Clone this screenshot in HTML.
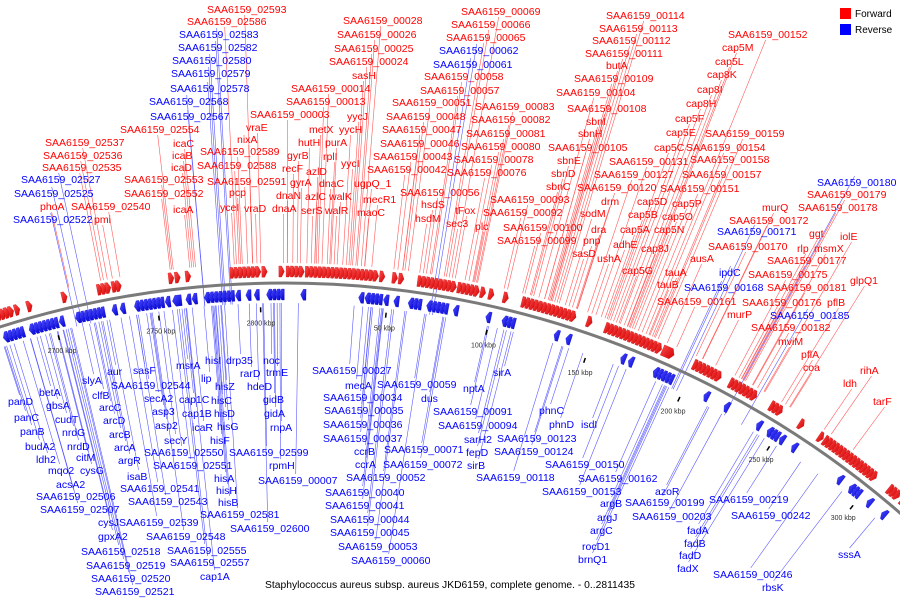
<!DOCTYPE html>
<html><head><meta charset="utf-8"><style>
html,body{margin:0;padding:0;background:#fff;width:900px;height:600px;overflow:hidden}
svg{display:block;overflow:hidden}
text{font-family:"Liberation Sans",sans-serif}
</style></head><body>
<svg id="map" width="900" height="600" viewBox="0 0 900 600" xmlns="http://www.w3.org/2000/svg">
<defs>
<linearGradient id="gr" x1="0" y1="0" x2="1" y2="1"><stop offset="0" stop-color="#ff5050"/><stop offset="1" stop-color="#d00000"/></linearGradient>
<linearGradient id="gb" x1="0" y1="0" x2="1" y2="1"><stop offset="0" stop-color="#5050ff"/><stop offset="1" stop-color="#0000d0"/></linearGradient>
<clipPath id="frame"><rect x="0" y="0" width="900" height="600"/></clipPath>
</defs>
<g clip-path="url(#frame)">
<g id="leaders"></g>
<g id="genes"></g>
<g id="ticks"></g>
<g id="labels"></g>
</g>
<g>
<rect x="840" y="8" width="11" height="11" fill="#f00"/>
<text x="855" y="17" font-size="10" fill="#000">Forward</text>
<rect x="840" y="24" width="11" height="11" fill="#00f"/>
<text x="855" y="33" font-size="10" fill="#000">Reverse</text>
</g>
<text x="450" y="588" text-anchor="middle" font-size="10" textLength="370" lengthAdjust="spacingAndGlyphs" fill="#000">Staphylococcus aureus subsp. aureus JKD6159, complete genome. - 0..2811435</text>
</svg>
<script>
const genomeLength = 2811.435; // kbp
const fwdGenes = [[2674,2.6],[2676,2.6],[2678,2.6],[2680,2.6],[2683,2.6],[2689,2.6],[2706,2.6],[2723,2.6],[2725,2.6],[2727,2.6],[2730,2.6],[2732,2.6],[2757,2.6],[2760,2.6],[2765,2.6],[2786,2.6],[2788,2.6],[2790,2.6],[2792,2.6],[2794,2.6],[2796,2.6],[2798,2.6],[2801,2.6],[2809,2.6],[1,2.6],[3,2.6],[5,2.6],[7,2.6],[10,2.6],[12,2.6],[14,2.6],[16,2.6],[18,2.6],[20,2.6],[22,2.6],[24,2.6],[26,2.6],[28,2.6],[30,2.6],[32,2.6],[34,2.6],[36,2.6],[38,2.6],[40,2.6],[42,2.6],[45,2.6],[51,2.6],[54,2.6],[63,2.6],[65,2.6],[67,2.6],[69,2.6],[71,2.6],[73,2.6],[75,2.6],[77,2.6],[79,2.6],[82,2.6],[84,2.6],[86,2.6],[88,2.6],[90,2.6],[93,2.6],[97,2.6],[104,2.6],[113,2.6],[115,2.6],[117,2.6],[119,2.6],[121,2.6],[123,2.6],[125,2.6],[127,2.6],[129,2.6],[131,2.6],[133,2.6],[135,2.6],[137,2.6],[145,2.6],[154,2.6],[156,2.6],[158,2.6],[160,2.6],[162,2.6],[164,2.6],[166,2.6],[168,2.6],[170,2.6],[172,2.6],[174,2.6],[176,2.6],[178,2.6],[180,2.6],[183,6],[199,2.6],[201,2.6],[203,2.6],[205,2.6],[207,2.6],[209,2.6],[211,2.6],[218,2.6],[220,2.6],[222,2.6],[224,2.6],[226,2.6],[228,2.6],[230,2.6],[240,2.6],[242,2.6],[244,2.6],[256,2.6],[267,2.6],[270,2.6],[272,2.6],[274,2.6],[276,2.6],[278,2.6],[280,2.6],[282,2.6],[284,2.6],[286,2.6],[288,2.6],[290,2.6],[292,2.6],[294,2.6],[296,2.6],[298,2.6],[308,2.6],[310,2.6],[312,2.6],[316,2.6]];
const revGenes = [[2674,2.6],[2676,2.6],[2678,2.6],[2680,2.6],[2682,2.6],[2687,2.6],[2689,2.6],[2691,2.6],[2693,2.6],[2695,2.6],[2697,2.6],[2699,2.6],[2702,2.6],[2710,2.6],[2712,2.6],[2714,2.6],[2716,2.6],[2718,2.6],[2720,2.6],[2722,2.6],[2728,2.6],[2732,2.6],[2739,2.6],[2741,2.6],[2743,2.6],[2745,2.6],[2747,2.6],[2749,2.6],[2751,2.6],[2754,2.6],[2757.5,4.5],[2764,2.6],[2767,2.6],[2773,2.6],[2775,2.6],[2777,2.6],[2779,2.6],[2781,2.6],[2783,2.6],[2785,2.6],[2788,2.6],[2793,2.6],[2797,2.6],[2803,2.6],[2805,2.6],[2807,2.6],[2809,2.6],[8,2.6],[36,2.6],[39,2.6],[41,2.6],[43,2.6],[45,2.6],[48,2.6],[53,2.6],[60,2.6],[62,2.6],[64,2.6],[69,2.6],[71,2.6],[73,2.6],[75,2.6],[77,2.6],[82,2.6],[98,2.6],[106,2.6],[108,2.6],[110,2.6],[132,2.6],[138,2.6],[166,2.6],[170,2.6],[183,2.6],[185,2.6],[187,2.6],[189,2.6],[191,2.6],[210,2.6],[221,2.6],[239,2.6],[245,2.6],[247,2.6],[249,2.6],[252,2.6],[259,2.6],[286,2.6],[293,2.6],[295,2.6],[297,2.6],[304,2.6],[313,2.6]];
const tickValues = [2700,2750,2800,50,100,150,200,250,300];
const tickLabels = ["2700 kbp","2750 kbp","2800 kbp","50 kbp","100 kbp","150 kbp","200 kbp","250 kbp","300 kbp"];
const labelData = [
["SAA6159_02593",207,9,"r"],["SAA6159_02586",187,21,"r"],["SAA6159_02583",179,34,"b"],["SAA6159_02582",178,47,"b"],["SAA6159_02580",172,60,"b"],["SAA6159_02579",171,73,"b"],["SAA6159_02578",170,88,"b"],["SAA6159_02568",149,101,"b"],["SAA6159_02567",150,116,"b"],["SAA6159_02554",120,129,"r"],["vraE",246,127,"r"],["SAA6159_02537",45,142,"r"],["nixA",237,139,"r"],["icaC",173,143,"r"],["SAA6159_02536",43,155,"r"],["icaB",172,155,"r"],["SAA6159_02589",200,151,"r"],["SAA6159_02535",42,167,"r"],["icaD",171,167,"r"],["SAA6159_02588",197,165,"r"],["SAA6159_02527",21,179,"b"],["SAA6159_02553",124,179,"r"],["SAA6159_02591",207,181,"r"],["SAA6159_02525",14,193,"b"],["SAA6159_02552",124,193,"r"],["pcp",229,192,"r"],["SAA6159_02540",71,206,"r"],["phoA",40,206,"r"],["icaA",173,209,"r"],["yceI",220,207,"r"],["vraD",244,208,"r"],["SAA6159_02522",13,219,"b"],["pmi",94,219,"r"],
["SAA6159_00003",250,114,"r"],["gyrB",287,155,"r"],["recF",282,168,"r"],["gyrA",290,182,"r"],["dnaN",276,195,"r"],["dnaA",272,208,"r"],
["SAA6159_00028",343,20,"r"],["SAA6159_00026",337,34,"r"],["SAA6159_00025",334,48,"r"],["SAA6159_00024",329,61,"r"],["sasH",352,75,"r"],["SAA6159_00014",291,88,"r"],["SAA6159_00013",286,101,"r"],["yycJ",347,116,"r"],["metX",309,129,"r"],["yycH",339,129,"r"],["hutH",298,142,"r"],["purA",325,142,"r"],["rplI",323,156,"r"],["yycI",341,163,"r"],["azlD",306,171,"r"],["dnaC",319,183,"r"],["ugpQ_1",354,183,"r"],["azlC",305,196,"r"],["walK",329,196,"r"],["mecR1",363,199,"r"],["serS",301,210,"r"],["walR",325,210,"r"],["maoC",357,212,"r"],
["SAA6159_00069",461,11,"r"],["SAA6159_00066",451,24,"r"],["SAA6159_00065",446,37,"r"],["SAA6159_00062",439,50,"b"],["SAA6159_00061",433,64,"b"],["SAA6159_00058",424,76,"r"],["SAA6159_00057",420,90,"r"],["SAA6159_00051",392,102,"r"],["SAA6159_00083",475,106,"r"],["SAA6159_00048",386,116,"r"],["SAA6159_00082",471,119,"r"],["SAA6159_00047",382,129,"r"],["SAA6159_00081",466,133,"r"],["SAA6159_00046",380,143,"r"],["SAA6159_00080",461,146,"r"],["SAA6159_00043",373,156,"r"],["SAA6159_00078",454,159,"r"],["SAA6159_00042",367,169,"r"],["SAA6159_00076",447,172,"r"],["SAA6159_00056",400,192,"r"],["hsdS",421,204,"r"],["tFox",455,210,"r"],["SAA6159_00093",490,199,"r"],["hsdM",415,218,"r"],["sec3",446,223,"r"],["plc",475,226,"r"],["SAA6159_00092",483,212,"r"],["SAA6159_00100",503,227,"r"],["SAA6159_00099",497,240,"r"],["pnp",583,240,"r"],["sasD",572,253,"r"],
["SAA6159_00114",606,15,"r"],["SAA6159_00113",599,28,"r"],["SAA6159_00112",592,40,"r"],["SAA6159_00111",585,53,"r"],["butA",606,65,"r"],["SAA6159_00109",574,78,"r"],["SAA6159_00104",556,92,"r"],["SAA6159_00108",567,108,"r"],["sbnI",586,121,"r"],["sbnH",578,133,"r"],["SAA6159_00105",548,147,"r"],["sbnE",557,160,"r"],["sbnD",551,173,"r"],["sbnC",546,186,"r"],["SAA6159_00131",609,161,"r"],["SAA6159_00127",594,174,"r"],["SAA6159_00120",577,187,"r"],["SAA6159_00151",660,188,"r"],["drm",601,201,"r"],["cap5D",637,201,"r"],["cap5P",672,203,"r"],["sodM",580,213,"r"],["cap5B",628,214,"r"],["cap5O",662,216,"r"],["dra",591,229,"r"],["cap5A",620,229,"r"],["cap5N",654,229,"r"],["adhE",613,244,"r"],["cap8J",641,248,"r"],["ushA",597,258,"r"],["ausA",690,258,"r"],["cap5G",622,270,"r"],["tauA",665,272,"r"],
["SAA6159_00152",728,34,"r"],["cap5M",722,47,"r"],["cap5L",715,61,"r"],["cap8K",707,74,"r"],["cap8I",697,89,"r"],["cap8H",686,103,"r"],["cap5F",675,118,"r"],["cap5E",666,132,"r"],["SAA6159_00159",705,133,"r"],["cap5C",654,147,"r"],["SAA6159_00154",686,147,"r"],["SAA6159_00158",690,159,"r"],["SAA6159_00157",682,174,"r"],["SAA6159_00180",817,182,"b"],["SAA6159_00179",807,194,"r"],["SAA6159_00178",798,207,"r"],["murQ",762,207,"r"],["SAA6159_00172",729,220,"r"],["SAA6159_00171",717,231,"b"],["ggt",809,233,"r"],["iolE",840,236,"r"],["rlp",797,248,"r"],["msmX",814,248,"r"],["SAA6159_00170",708,246,"r"],["SAA6159_00177",767,260,"r"],["ipdC",719,272,"b"],["SAA6159_00175",748,274,"r"],
["tauB",657,284,"r"],["SAA6159_00168",684,287,"b"],["SAA6159_00181",767,287,"r"],["glpQ1",850,280,"r"],["SAA6159_00161",657,301,"r"],["SAA6159_00176",742,302,"r"],["pflB",827,302,"r"],["murP",727,314,"r"],["SAA6159_00185",770,315,"b"],["SAA6159_00182",751,327,"r"],["mviM",778,341,"r"],["pflA",801,354,"r"],["coa",803,367,"r"],["rihA",860,370,"r"],["ldh",843,383,"r"],["tarF",873,401,"r"],
["sirA",493,372,"b"],["nptA",463,388,"b"],["SAA6159_00091",433,411,"b"],["SAA6159_00094",438,425,"b"],["sarH2",464,439,"b"],["fepD",466,452,"b"],["sirB",467,465,"b"],["SAA6159_00118",476,477,"b"],["phnC",539,410,"b"],["phnD",549,424,"b"],["isdI",581,424,"b"],["SAA6159_00123",497,438,"b"],["SAA6159_00124",494,451,"b"],["SAA6159_00150",545,464,"b"],["SAA6159_00162",578,478,"b"],["SAA6159_00153",542,491,"b"],["argB",600,503,"b"],["argJ",597,517,"b"],["argC",590,530,"b"],["rocD1",582,546,"b"],["brnQ1",578,559,"b"],
["azoR",655,491,"b"],["SAA6159_00199",625,502,"b"],["SAA6159_00219",709,499,"b"],["SAA6159_00203",632,516,"b"],["SAA6159_00242",731,515,"b"],["fadA",687,530,"b"],["fadB",684,543,"b"],["fadD",679,555,"b"],["fadX",677,568,"b"],["SAA6159_00246",713,574,"b"],["rbsK",762,587,"b"],["sssA",838,554,"b"],
["noc",263,360,"b"],["trmE",266,372,"b"],["hdeD",247,386,"b"],["gidB",263,399,"b"],["gidA",264,413,"b"],["rnpA",270,427,"b"],["SAA6159_02599",229,452,"b"],["rpmH",269,465,"b"],["SAA6159_00007",258,480,"b"],["SAA6159_02581",200,514,"b"],["SAA6159_02600",230,528,"b"],
["SAA6159_00027",312,370,"b"],["mecA",345,385,"b"],["SAA6159_00059",377,384,"b"],["dus",421,398,"b"],["SAA6159_00034",323,397,"b"],["SAA6159_00035",324,410,"b"],["SAA6159_00036",323,424,"b"],["SAA6159_00037",323,438,"b"],["ccrB",354,451,"b"],["SAA6159_00071",384,449,"b"],["ccrA",355,464,"b"],["SAA6159_00072",383,464,"b"],["SAA6159_00052",346,477,"b"],["SAA6159_00040",325,492,"b"],["SAA6159_00041",325,505,"b"],["SAA6159_00044",330,519,"b"],["SAA6159_00045",330,532,"b"],["SAA6159_00053",338,546,"b"],["SAA6159_00060",351,560,"b"],
["panD",8,401,"b"],["panC",14,417,"b"],["panB",20,431,"b"],["budA2",25,446,"b"],["ldh2",36,459,"b"],["mqo2",48,470,"b"],["acsA2",56,484,"b"],["SAA6159_02506",36,496,"b"],["SAA6159_02507",40,509,"b"],["betA",39,392,"b"],["gbsA",46,405,"b"],["cudT",55,419,"b"],["nrdG",62,432,"b"],["nrdD",67,446,"b"],["citM",76,457,"b"],["cysG",80,470,"b"],["slyA",82,380,"b"],["clfB",92,395,"b"],["aur",107,371,"b"],["arcC",99,407,"b"],["arcD",103,420,"b"],["arcB",109,434,"b"],["arcA",114,447,"b"],["argR",118,460,"b"],["isaB",127,476,"b"],["sasF",133,370,"b"],["SAA6159_02544",111,385,"b"],["secA2",144,398,"b"],["asp3",152,411,"b"],["asp2",155,425,"b"],["secY",164,440,"b"],["SAA6159_02550",144,452,"b"],["SAA6159_02551",153,465,"b"],["SAA6159_02541",120,488,"b"],["SAA6159_02543",128,501,"b"],["cysJ",98,522,"b"],["SAA6159_02539",119,522,"b"],["gpxA2",98,536,"b"],["SAA6159_02548",146,536,"b"],["SAA6159_02518",81,551,"b"],["SAA6159_02555",167,550,"b"],["SAA6159_02519",86,565,"b"],["SAA6159_02557",170,562,"b"],["SAA6159_02520",91,578,"b"],["cap1A",200,576,"b"],["SAA6159_02521",95,591,"b"],["msrA",176,365,"b"],["hisI",205,360,"b"],["drp35",226,360,"b"],["lip",201,378,"b"],["rarD",240,373,"b"],["hisZ",215,386,"b"],["cap1C",179,399,"b"],["hisC",211,400,"b"],["cap1B",182,413,"b"],["hisD",214,413,"b"],["icaR",192,427,"b"],["hisG",217,426,"b"],["hisF",210,440,"b"],["hisA",214,478,"b"],["hisH",216,490,"b"],["hisB",218,502,"b"]
];

const NS = "http://www.w3.org/2000/svg";
const CX = 284, CY = 1223, R = 940;
function ang(kbp){ return kbp / genomeLength * 2 * Math.PI; }
function pt(kbp, r){ const a = ang(kbp); return [CX + r*Math.sin(a), CY - r*Math.cos(a)]; }
function mk(tag, attrs, parent){ const e = document.createElementNS(NS, tag); for (const k in attrs) e.setAttribute(k, attrs[k]); parent.appendChild(e); return e; }

const gGenes = document.getElementById('genes');
const gTicks = document.getElementById('ticks');
const gLab = document.getElementById('labels');
const gLead = document.getElementById('leaders');

// backbone: visible arc only
const s0 = pt(-150, R), s1 = pt(335, R);
const bb = mk('path', {d:'M'+s0[0].toFixed(1)+','+s0[1].toFixed(1)+' A'+R+','+R+' 0 0 1 '+s1[0].toFixed(1)+','+s1[1].toFixed(1), fill:'none', stroke:'#7a7a7a', 'stroke-width':3}, gGenes);



function arrow(start, len, strand){
  const r1 = strand > 0 ? R+6 : R-17, r2 = strand > 0 ? R+17 : R-6, rm = (r1+r2)/2;
  const head = Math.min(len*0.5, 1.5);
  let p;
  if (strand > 0){
    const e = start+len, h = e-head;
    p = [pt(start,r1),pt(start,r2),pt(h,r2),pt(e,rm),pt(h,r1)];
  } else {
    const e = start, h = start+head, s = start+len;
    p = [pt(s,r1),pt(s,r2),pt(h,r2),pt(e,rm),pt(h,r1)];
  }
  const poly = mk('polygon', {points:p.map(q=>q[0].toFixed(1)+','+q[1].toFixed(1)).join(' '),
    fill: strand>0 ? 'url(#gr)' : 'url(#gb)', stroke: strand>0 ? '#c00' : '#00c', 'stroke-width':0.3}, gGenes);
  
  
}
fwdGenes.forEach(g => arrow(g[0], g[1], 1));
revGenes.forEach(g => arrow(g[0], g[1], -1));

tickValues.forEach((v,i) => {
  const a = pt(v, R-24), b = pt(v, R-29), c = pt(v, R-40);
  const t = mk('line', {x1:a[0], y1:a[1], x2:b[0], y2:b[1], stroke:'#000', 'stroke-width':1.5}, gTicks);
  
  
  const tx = mk('text', {x:c[0], y:c[1]+2, 'font-size':7, fill:'#333', 'text-anchor':'middle'}, gTicks);
  
  
  tx.textContent = tickLabels[i];
});

labelData.forEach(d => {
  const [txt, x, cy, c] = d;
  const col = c === 'r' ? '#f00' : '#00f';
  const t = mk('text', {x:x, y:Math.min(cy+4, 597), 'font-size':10.5, fill:col}, gLab);
  
  
  t.textContent = txt;
  const w = txt.length * 5.8;
  const lx = x + w/2;
  const ly = c === 'r' ? cy + 6 : cy - 6;
  const a = Math.atan2(lx - CX, CY - ly);
  const rr = c === 'r' ? R + 20 : R - 20;
  const ex = CX + rr*Math.sin(a), ey = CY - rr*Math.cos(a);
  const ln = mk('line', {x1:lx, y1:ly, x2:ex, y2:ey, stroke: c==='r' ? '#ff5a5a' : '#5a5aff', 'stroke-width':0.6}, gLead);
  
  
});
</script>
</body></html>
